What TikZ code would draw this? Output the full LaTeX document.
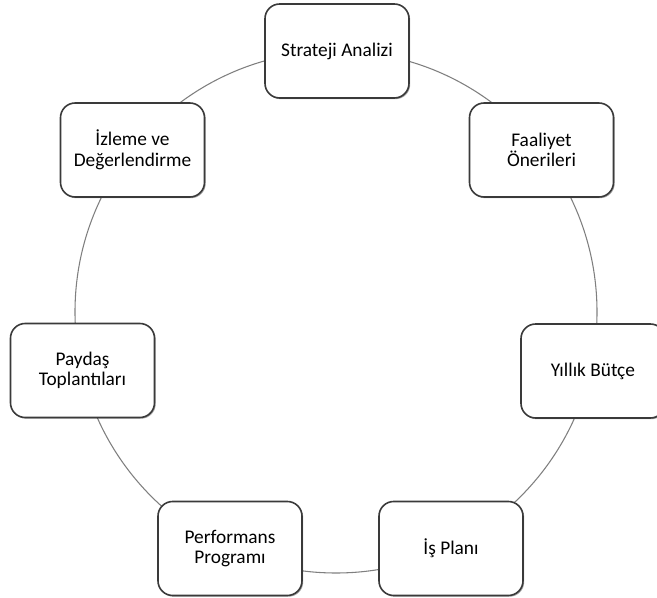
\documentclass[tikz,border=0pt]{standalone}
\usepackage{fontspec}
\setmainfont{Carlito}
\usetikzlibrary{shadows}
\definecolor{ringgray}{HTML}{7F7F7F}
\definecolor{boxline}{HTML}{3A3A3A}
\begin{document}
\begin{tikzpicture}[x=0.75pt,y=-0.75pt,
  stage/.style={draw=boxline, line width=1.2pt, fill=white, rounded corners=11pt,
    minimum width=108pt, minimum height=70.5pt, inner sep=0pt, align=center,
    font=\fontsize{14.5pt}{15.5pt}\selectfont,
    drop shadow={shadow xshift=0.9pt, shadow yshift=-0.9pt, opacity=0.35, fill=black}},
  ring/.style={draw=ringgray, line width=0.8pt}]
  \useasboundingbox (0,0) rectangle (657,598);
  % the cycle ring behind the stages
  \coordinate (c) at (336,312);
  \draw[ring] (c) circle[radius=195.75pt];
  % stages around the ring
  \node[stage] (strateji)   at (337,51)    {Strateji Analizi};
  \node[stage] (faaliyet)   at (541.5,150) {Faaliyet\\Önerileri};
  \node[stage] (butce)      at (593,371)   {Yıllık Bütçe};
  \node[stage] (isplani)    at (451,548.5) {İş Planı};
  \node[stage] (performans) at (230,548.5) {Performans\\Programı};
  \node[stage] (paydas)     at (82.5,370.5){Paydaş\\Toplantıları};
  \node[stage] (izleme)     at (132.5,150) {İzleme ve\\Değerlendirme};
\end{tikzpicture}
\end{document}
